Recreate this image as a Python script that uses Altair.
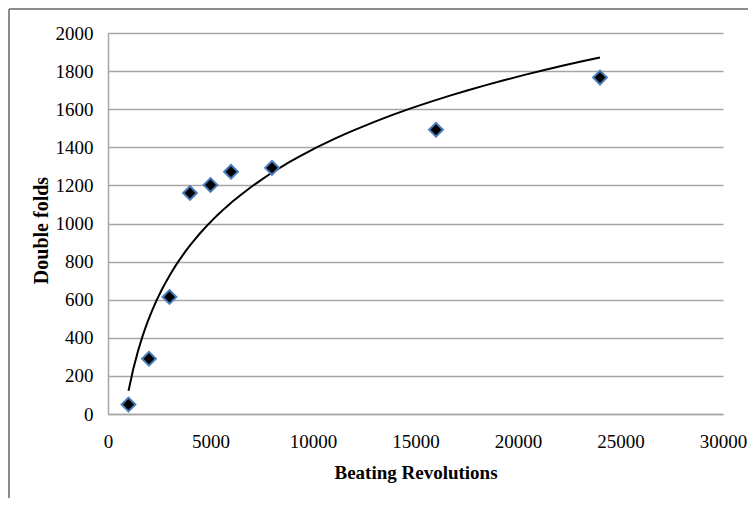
import altair as alt
import pandas as pd

# Data
revolutions = [1000, 2000, 3000, 4000, 5000, 6000, 8000, 16000, 24000]
double_folds = [50, 290, 614, 1160, 1202, 1272, 1292, 1492, 1766]

x_ticks = [0, 5000, 10000, 15000, 20000, 25000, 30000]
y_ticks = [0, 200, 400, 600, 800, 1000, 1200, 1400, 1600, 1800, 2000]

df = pd.DataFrame({"rev": revolutions, "folds": double_folds})

FONT = "Liberation Serif"
GRID = "#a6a6a6"
W = 615

x_enc = alt.X(
    "rev:Q",
    scale=alt.Scale(domain=[0, 30000], nice=False, zero=True),
    axis=alt.Axis(
        title="Beating Revolutions",
        values=x_ticks,
        tickCount=20,
        format="d",
        grid=False,
        ticks=False,
        domainColor=GRID,
        domainWidth=1.5,
        labelFont=FONT,
        labelFontSize=19,
        labelColor="black",
        labelPadding=18,
        labelFlush=False,
        labelOverlap=False,
        titleFont=FONT,
        titleFontSize=19,
        titleFontWeight="bold",
        titleColor="black",
        titleX=W / 2,
        titleY=58.5,
        titleAlign="center",
        titleBaseline="middle",
    ),
)
y_enc = alt.Y(
    "folds:Q",
    scale=alt.Scale(domain=[0, 2000], nice=False),
    axis=alt.Axis(
        title="Double folds",
        values=y_ticks,
        tickCount=20,
        format="d",
        grid=True,
        gridColor=GRID,
        gridWidth=1.5,
        ticks=False,
        domainColor=GRID,
        domainWidth=1.5,
        labelFont=FONT,
        labelFontSize=19,
        labelColor="black",
        labelPadding=15,
        labelBaseline="middle",
        labelFlush=False,
        labelOverlap=False,
        titleFont=FONT,
        titleFontSize=20,
        titleFontWeight="bold",
        titleColor="black",
        titleAngle=270,
        titleX=-66.5,
        titleY=197,
        titleAlign="center",
        titleBaseline="middle",
    ),
)

base = alt.Chart(df)

points = base.mark_point(
    shape="diamond",
    filled=True,
    fill="black",
    stroke="#4a7ebb",
    strokeWidth=2,
    size=190,
    opacity=1,
).encode(x=x_enc, y=y_enc)

trend = (
    base.transform_regression("rev", "folds", method="log")
    .mark_line(color="black", strokeWidth=2)
    .encode(x=x_enc, y=y_enc)
)

frame_top = base.mark_rule(color="#8c8c8c", strokeWidth=2).encode(
    x=alt.value(-99), x2=alt.value(660), y=alt.value(-24)
)
frame_left = base.mark_rule(color="#8c8c8c", strokeWidth=2).encode(
    x=alt.value(-99), y=alt.value(-24), y2=alt.value(480)
)

chart = (
    alt.layer(frame_top, frame_left, trend, points)
    .properties(
        width=W,
        height=381,
        autosize=alt.AutoSizeParams(type="none"),
        padding={"left": 100, "top": 25, "right": 25, "bottom": 84},
        background="white",
    )
    .configure_view(stroke=None)
)

chart.save("out.html", embed_options={"renderer": "svg", "actions": False})
